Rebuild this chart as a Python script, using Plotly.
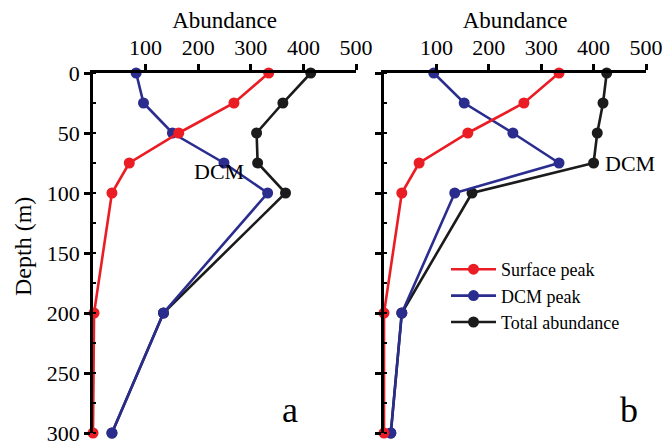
import plotly.graph_objects as go

depth = [0, 25, 50, 75, 100, 200, 300]

# Panel a
surface_a = [334, 268, 163, 69, 36, 2, 0]
dcm_a = [82, 96, 151, 249, 332, 134, 36]
total_a = [414, 361, 311, 313, 366, 134, 36]

# Panel b
surface_b = [334, 267, 160, 67, 34, 0, 0]
dcm_b = [95, 153, 246, 334, 135, 34, 13]
total_b = [425, 418, 407, 400, 168, 34, 13]

names = ["Surface peak", "DCM peak", "Total abundance"]
colors = ["#ea1c24", "#2a2d8e", "#1b1b1b"]
xticks = [100, 200, 300, 400, 500]
yticks = [0, 50, 100, 150, 200, 250, 300]

FONT = "Liberation Serif"
W, H = 667, 441

fig = go.Figure()

for panel, series in (("a", [surface_a, dcm_a, total_a]), ("b", [surface_b, dcm_b, total_b])):
    xa = "x" if panel == "a" else "x2"
    ya = "y" if panel == "a" else "y2"
    for i in [2, 1, 0]:
        fig.add_trace(go.Scatter(
            x=series[i], y=depth, xaxis=xa, yaxis=ya,
            mode="lines+markers", name=names[i],
            line=dict(color=colors[i], width=2.6),
            marker=dict(color=colors[i], size=11),
            showlegend=(panel == "b"), legendgroup=names[i],
            legendrank=i + 1, cliponaxis=False,
        ))

def px_x(p):
    return p / W

def px_y(p):
    return 1 - p / H

axis_common = dict(
    range=[0, 500], side="top", showline=True, linecolor="black", linewidth=2.6,
    ticks="outside", ticklen=6, tickwidth=2.6, tickcolor="black",
    tickvals=xticks, showgrid=False, zeroline=False, automargin=False,
    tickfont=dict(family=FONT, size=22, color="black"),
    title=dict(text="Abundance", font=dict(family=FONT, size=23, color="black"), standoff=1),
)
yaxis_common = dict(
    range=[300, 0], showline=True, linecolor="black", linewidth=2.6,
    ticks="outside", ticklen=6, tickwidth=2.6, tickcolor="black",
    tickvals=yticks, showgrid=False, zeroline=False, automargin=False,
    ticklabeloverflow="allow",
    tickfont=dict(family=FONT, size=22, color="black"),
    minor=dict(ticks="inside", ticklen=3, tickwidth=1.5, tickcolor="black", dtick=25, showgrid=False),
)

fig.update_layout(
    width=W, height=H,
    margin=dict(l=0, r=0, t=0, b=0, autoexpand=False),
    paper_bgcolor="white", plot_bgcolor="white",
    xaxis=dict(domain=[px_x(93), px_x(356)], anchor="y", **axis_common),
    xaxis2=dict(domain=[px_x(384), px_x(646)], anchor="y2", **axis_common),
    yaxis=dict(domain=[px_y(433), px_y(73)], anchor="x", **yaxis_common),
    yaxis2=dict(domain=[px_y(433), px_y(73)], anchor="x2", showticklabels=False, **yaxis_common),
    legend=dict(
        x=px_x(446), y=px_y(251), xanchor="left", yanchor="top",
        font=dict(family=FONT, size=18, color="black"),
        bgcolor="rgba(0,0,0,0)", tracegroupgap=0, itemwidth=45,
    ),
    showlegend=True,
    annotations=[
        dict(text="Depth (m)", x=px_x(23), y=px_y(247), xref="paper", yref="paper",
             xanchor="center", yanchor="middle", showarrow=False, textangle=-90,
             font=dict(family=FONT, size=24, color="black")),
        dict(text="DCM", x=239, y=82, xref="x", yref="y", showarrow=False,
             font=dict(family=FONT, size=22, color="black")),
        dict(text="DCM", x=469, y=75, xref="x2", yref="y2", showarrow=False,
             font=dict(family=FONT, size=22, color="black")),
        dict(text="a", x=px_x(290), y=px_y(410), xref="paper", yref="paper",
             xanchor="center", yanchor="middle", showarrow=False,
             font=dict(family=FONT, size=36, color="black")),
        dict(text="b", x=px_x(629), y=px_y(410), xref="paper", yref="paper",
             xanchor="center", yanchor="middle", showarrow=False,
             font=dict(family=FONT, size=36, color="black")),
    ],
)

fig.write_html("out.html")
